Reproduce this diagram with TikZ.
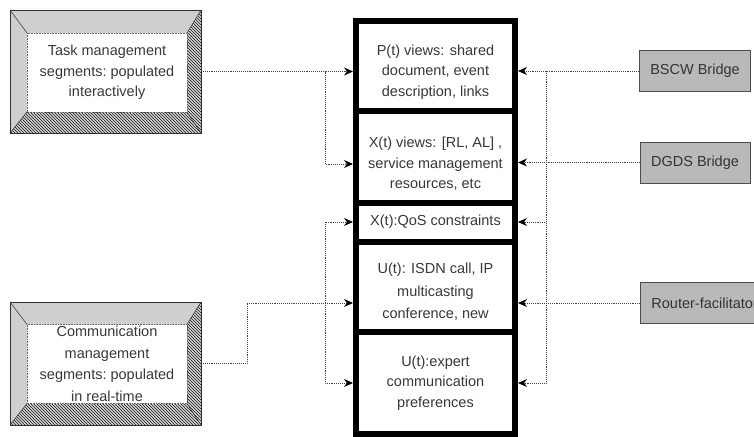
\documentclass[tikz,border=0pt]{standalone}
\usepackage{fontspec}
\setmainfont{Liberation Sans}
\usetikzlibrary{arrows.meta,patterns}
\begin{document}
\begin{tikzpicture}[x=1pt,y=-1pt,
  txt/.style={font=\fontsize{14.5}{20.5}\selectfont, align=center, text=black!78, inner sep=0pt},
  colbox/.style={draw=black, line width=6pt, fill=white, inner sep=0pt, minimum width=159pt},
  outerbev/.style={inner sep=0pt, outer sep=0pt, minimum width=191pt, minimum height=123pt},
  innerbev/.style={inner sep=0pt, outer sep=0pt, minimum width=160pt, minimum height=79pt},
  light/.style={fill=gray!38},
  dark/.style={fill=gray!35, postaction={pattern=north west lines, pattern color=black!90}},
  bridge/.style={draw=black!70, line width=0.8pt, fill=gray!55, minimum height=41pt, inner xsep=11pt,
     font=\fontsize{14.5}{17}\selectfont, text=black!80},
  conn/.style={draw=black!75, line width=0.9pt, densely dotted, -{Stealth[length=9pt,width=8pt,black]}},
  plain/.style={draw=black!75, line width=0.9pt, densely dotted}]
\useasboundingbox (0,0) rectangle (754,436);
\clip (0,0) rectangle (754,436);

% central column
\node[colbox, minimum height=90pt] (p) at (435.5,66) {};
\node[colbox, minimum height=92pt] (xv) at (435.5,157) {};
\node[colbox, minimum height=39pt] (q) at (435.5,222.5) {};
\node[colbox, minimum height=90pt] (u) at (435.5,287) {};
\node[colbox, minimum height=102pt] (ue) at (435.5,383) {};
\node[txt] (pt) at (435.5,72) {P(t) views: shared\\document, event\\description, links};
\node[txt] (xvt) at (435.5,164) {X(t) views: [RL, AL] ,\\service management\\resources, etc};
\node[txt] (qt) at (435.5,222) {X(t):QoS constraints};
\node[txt, font=\fontsize{14.5}{22.5}\selectfont] (ut) at (435.5,292) {U(t): ISDN call, IP\\multicasting\\conference, new};
\node[txt] (uet) at (435.5,383) {U(t):expert\\communication\\preferences};

% left bevelled boxes
\foreach \nm/\cy in {task/71.5, comm/363.5} {
  \node[outerbev] (\nm) at (105.5,\cy) {};
}
\node[innerbev] (taski) at (107,72.5) {};
\node[innerbev] (commi) at (107,364) {};
\foreach \o/\i in {task/taski, comm/commi} {
  \fill[light] (\o.north west) -- (\o.north east) -- (\i.north east) -- (\i.north west) -- cycle;
  \fill[light] (\o.north west) -- (\i.north west) -- (\i.south west) -- (\o.south west) -- cycle;
  \path[dark] (\o.north east) -- (\o.south east) -- (\i.south east) -- (\i.north east) -- cycle;
  \path[dark] (\o.south west) -- (\o.south east) -- (\i.south east) -- (\i.south west) -- cycle;
  \draw[black!75, line width=0.6pt] (\o.north west) -- (\i.north west) (\o.north east) -- (\i.north east)
     (\o.south west) -- (\i.south west) (\o.south east) -- (\i.south east);
  \draw[black!80, line width=0.8pt] (\o.north west) rectangle (\o.south east);
  \draw[black!60, line width=0.6pt, densely dotted] (\i.north west) rectangle (\i.south east);
}
\node[txt] (taskt) at (taski) {Task management\\segments:\ populated\\interactively};
\node[txt, font=\fontsize{14.5}{21.5}\selectfont] (commt) at (commi) {Communication\\management\\segments:\ populated\\in real-time};

% right boxes
\node[bridge, minimum width=110pt] (bscw) at (695,71) {BSCW Bridge};
\node[bridge, minimum width=110pt] (dgds) at (695,162.5) {DGDS Bridge};
\node[bridge, anchor=west] (router) at (640,303) {Router-facilitator};

% junction coordinates
\coordinate (lv) at (325,0);
\coordinate (rv) at (546,0);
\coordinate (c1) at (247,303);

% left connectors
\draw[conn] (task.east) -- (p.west |- task.east);
\draw[conn] (lv |- task.east) |- (xv.west |- xvt);
\draw[conn] (comm.east) -| (c1) -- (u.west |- c1);
\draw[conn] (lv |- c1) |- (q.west |- qt);
\draw[conn] (lv |- c1) |- (ue.west |- uet);

% right connectors
\draw[conn] (bscw.west) -- (p.east |- bscw.west);
\draw[conn] (dgds.west) -- (xv.east |- dgds.west);
\draw[conn] (router.west) -- (u.east |- router.west);
\draw[conn] (rv |- bscw.west) |- (q.east |- qt);
\draw[conn] (rv |- bscw.west) |- (ue.east |- uet);
\end{tikzpicture}
\end{document}
